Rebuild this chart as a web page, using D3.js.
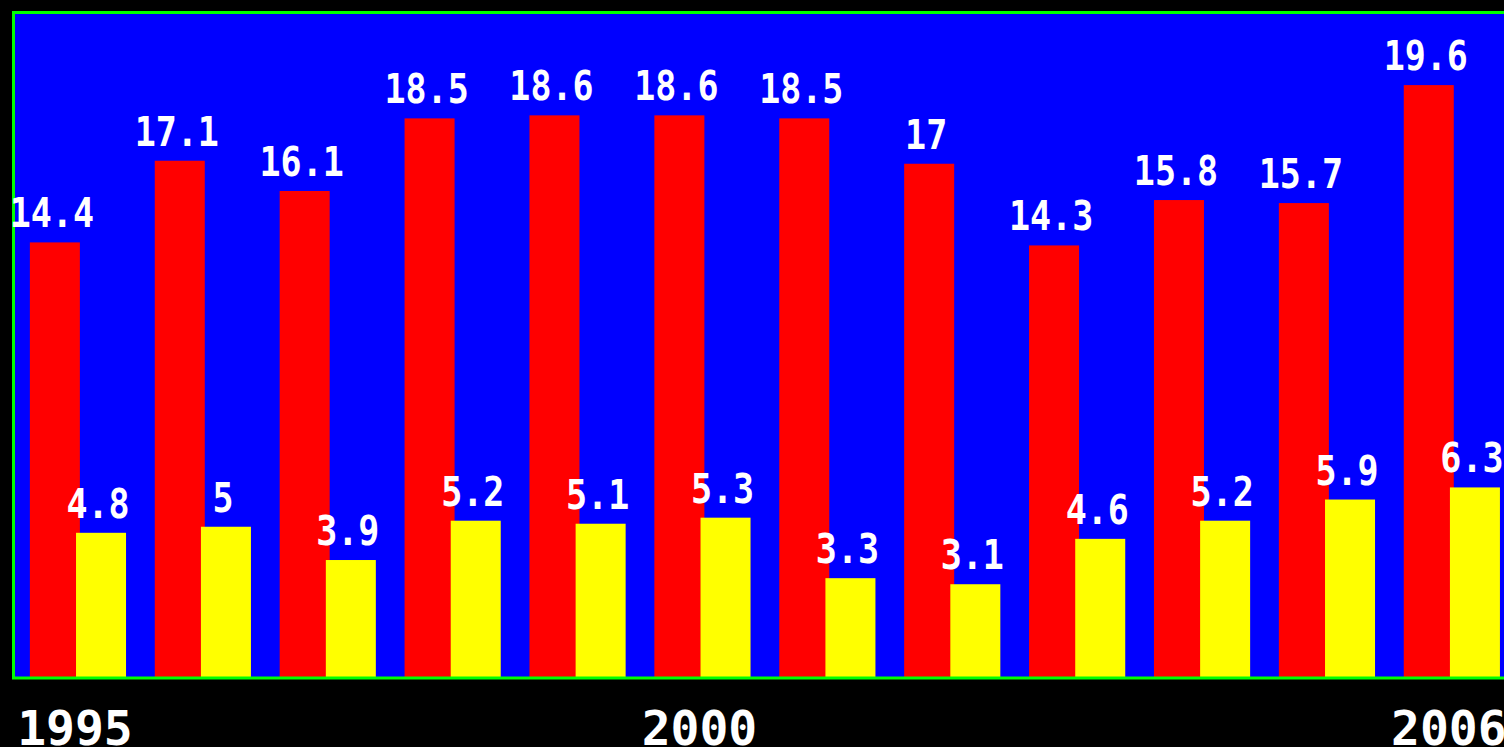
<!DOCTYPE html>
<meta charset="utf-8">
<style>
  html, body { margin: 0; padding: 0; background: #000; overflow: hidden; }
  svg { display: block; }
</style>
<body>
<div class="chart"></div>

<script src="https://d3js.org/d3.v7.min.js"></script>
<script>

// data
var years = [1995, 1996, 1997, 1998, 1999, 2000, 2001, 2002, 2003, 2004, 2005, 2006];
var redValues = [14.4, 17.1, 16.1, 18.5, 18.6, 18.6, 18.5, 17, 14.3, 15.8, 15.7, 19.6];
var yellowValues = [4.8, 5, 3.9, 5.2, 5.1, 5.3, 3.3, 3.1, 4.6, 5.2, 5.9, 6.3];
var yearTicks = [1995, 2000, 2006];

var width = 1504, height = 747;
var plot = {left: 13.5, top: 12.5, bottom: 678};

var svg = d3.select(".chart").append("svg")
    .attr("width", width)
    .attr("height", height);

// scales
var x = d3.scaleBand()
    .domain(years)
    .range([15.5, 1514.3])
    .paddingInner(0.23)
    .paddingOuter(0.115);

var y = d3.scaleLinear()
    .domain([0, 22])
    .range([plot.bottom, plot.top]);

var bw = x.bandwidth();
var redW = bw * 0.52, yelX = bw * 0.48, yelW = bw * 0.52;

// blue plot area
svg.append("rect")
    .attr("x", plot.left)
    .attr("y", plot.top)
    .attr("width", 1600)
    .attr("height", plot.bottom - plot.top)
    .style("fill", "#0000ff");

var rows = years.map(function(yr, i) {
  return {year: yr, red: redValues[i], yellow: yellowValues[i]};
});

// red bars
svg.selectAll(".red")
    .data(rows)
  .enter().append("rect")
    .attr("class", "red")
    .attr("x", function(d) { return x(d.year); })
    .attr("y", function(d) { return y(d.red); })
    .attr("width", redW)
    .attr("height", function(d) { return plot.bottom - y(d.red); })
    .style("fill", "#ff0000");

// yellow bars
svg.selectAll(".yellow")
    .data(rows)
  .enter().append("rect")
    .attr("class", "yellow")
    .attr("x", function(d) { return x(d.year) + yelX; })
    .attr("y", function(d) { return y(d.yellow); })
    .attr("width", yelW)
    .attr("height", function(d) { return plot.bottom - y(d.yellow); })
    .style("fill", "#ffff00");

// green frame
svg.append("rect")
    .attr("x", plot.left)
    .attr("y", plot.top)
    .attr("width", 1600)
    .attr("height", plot.bottom - plot.top)
    .style("fill", "none")
    .style("stroke", "#00ff00")
    .style("stroke-width", 3);

// value labels
function addLabels(cls, key, offset, w) {
  svg.selectAll("." + cls)
      .data(rows)
    .enter().append("g")
      .attr("class", cls)
      .attr("transform", function(d) {
        return "translate(" + (x(d.year) + offset + w / 2 - 3) + "," + (y(d[key]) - 15) + ")";
      })
    .append("text")
      .attr("transform", "scale(1,1.17)")
      .attr("text-anchor", "middle")
      .style("font-family", "'DejaVu Sans Mono', monospace")
      .style("font-weight", "bold")
      .style("font-size", "35px")
      .style("fill", "#fff")
      .text(function(d) { return d[key]; });
}
addLabels("lblr", "red", 0, redW);
addLabels("lbly", "yellow", yelX, yelW);

// year labels
svg.selectAll(".yr")
    .data(yearTicks)
  .enter().append("text")
    .attr("class", "yr")
    .attr("x", function(d) { return x(d) + bw / 2 - 3; })
    .attr("y", 745)
    .attr("text-anchor", "middle")
    .style("font-family", "'DejaVu Sans Mono', monospace")
    .style("font-weight", "bold")
    .style("font-size", "48px")
    .style("fill", "#fff")
    .text(function(d) { return d; });

</script>
</body>
